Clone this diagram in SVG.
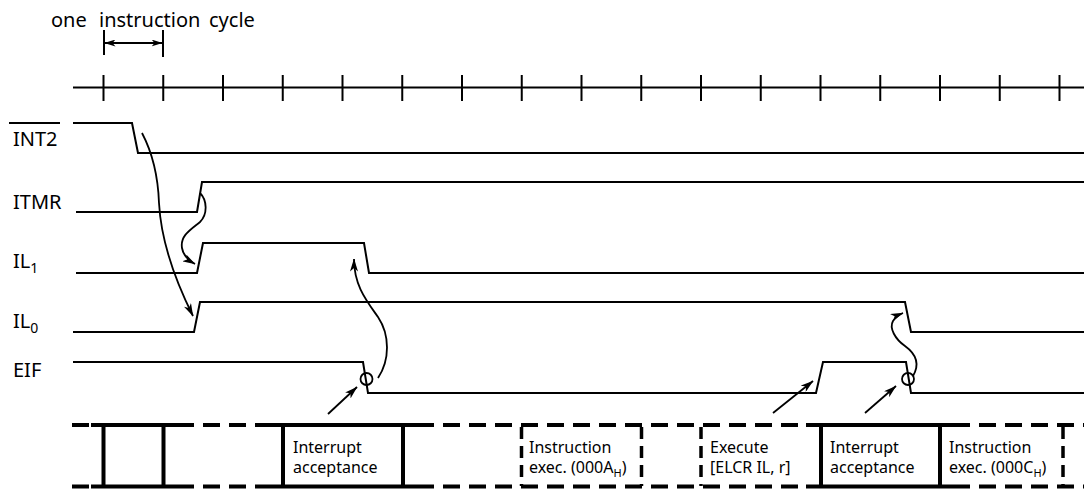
<svg xmlns="http://www.w3.org/2000/svg" width="1084" height="489" viewBox="0 0 1084 489">
<defs>
<marker id="ah" markerUnits="userSpaceOnUse" viewBox="0 0 13 8" markerWidth="13" markerHeight="8" refX="12.5" refY="4" orient="auto"><path d="M0,0 L13,4 L0,8 L3.5,4 z" fill="#000"/></marker>
<marker id="ahs" markerUnits="userSpaceOnUse" viewBox="0 0 11 7" markerWidth="11" markerHeight="7" refX="10.5" refY="3.5" orient="auto-start-reverse"><path d="M0,0 L11,3.5 L0,7 L3,3.5 z" fill="#000"/></marker>
</defs>
<style>
.ln{fill:none;stroke:#000;stroke-width:2}
.sig{fill:none;stroke:#000;stroke-width:2;stroke-linejoin:miter}
.cur{fill:none;stroke:#000;stroke-width:1.8}
.lbl{font-family:"Noto Sans","Liberation Sans",sans-serif;font-size:20px;fill:#000}
.sub{font-size:14px}
.bx{font-family:"Noto Sans","Liberation Sans",sans-serif;font-size:16px;fill:#000}
.bsub{font-size:11px}
.thick{fill:none;stroke:#000;stroke-width:4}
.dash{fill:none;stroke:#000;stroke-width:4;stroke-dasharray:17 9}
.vdash{fill:none;stroke:#000;stroke-width:3.5;stroke-dasharray:12 7}
</style>

<g id="cycle-label">
<text class="lbl" y="27"><tspan x="51">one</tspan><tspan x="99">instruction</tspan><tspan x="209">cycle</tspan></text>
<line class="ln" x1="104" y1="30" x2="104" y2="55"/>
<line class="ln" x1="163" y1="30" x2="163" y2="57"/>
<line class="ln" x1="105" y1="43" x2="162" y2="43" marker-start="url(#ahs)" marker-end="url(#ahs)"/>
</g>

<g id="timeline">
<line class="ln" x1="73" y1="87.5" x2="1084" y2="87.5"/>
<path class="ln" d="M103.5,75V101 M163.25,75V101 M223,75V101 M282.75,75V101 M342.5,75V101 M402.25,75V101 M462,75V101 M521.75,75V101 M581.5,75V101 M641.25,75V101 M701,75V101 M760.75,75V101 M820.5,75V101 M880.25,75V101 M940,75V101 M999.75,75V101 M1059.5,75V101"/>
</g>

<g id="sig-int2">
<text class="lbl" x="13" y="146">INT2</text>
<line class="ln" x1="9" y1="123" x2="60" y2="123"/>
<path class="sig" d="M73,123 H132 L138,153 H1084"/>
</g>

<g id="sig-itmr">
<text class="lbl" x="13" y="209">ITMR</text>
<path class="sig" d="M76,212 H197 L202,182 H1084"/>
</g>

<g id="sig-il1">
<text class="lbl" x="13" y="268">IL<tspan class="sub" dy="5">1</tspan></text>
<path class="sig" d="M76,273 H197 L203,243 H364 L369,273 H1084"/>
</g>

<g id="sig-il0">
<text class="lbl" x="13" y="328">IL<tspan class="sub" dy="5">0</tspan></text>
<path class="sig" d="M73,332 H194 L200,302 H905 L911,332 H1084"/>
</g>

<g id="sig-eif">
<text class="lbl" x="13" y="377">EIF</text>
<path class="sig" d="M73,362 H363 L368,393 H816 L823,362 H906 L911,393 H1084"/>
<circle cx="366.5" cy="379" r="6" fill="none" stroke="#000" stroke-width="1.8"/>
<circle cx="908" cy="379" r="6" fill="none" stroke="#000" stroke-width="1.8"/>
</g>

<g id="connectors">
<path class="cur" d="M142,133 C152,152 158,175 159,203 C161,240 176,282 193,316" marker-end="url(#ah)"/>
<path class="cur" d="M200,193 C207,200 208,214 200,222 C190,230 180,236 182,248 C183,255 188,260 195,264" marker-end="url(#ah)"/>
<path class="cur" d="M378,378 C390,360 390,335 378,317 C366,300 354,285 354,259" marker-end="url(#ah)"/>
<path class="cur" d="M913,376 C920,364 916,354 905,346 C895,339 889,328 893,321 C895,318 898,315 903,313" marker-end="url(#ah)"/>
<line class="cur" x1="328" y1="414" x2="357" y2="387" marker-end="url(#ah)"/>
<line class="cur" x1="773" y1="413" x2="813" y2="381" marker-end="url(#ah)"/>
<line class="cur" x1="865" y1="413" x2="896" y2="386" marker-end="url(#ah)"/>
</g>

<g id="sequence">
<path class="dash" d="M72,425H91 M177,425H269 M417,425H806 M953,425H1084 M72,486.5H91 M177,486.5H269 M417,486.5H806 M953,486.5H1084"/>
<path class="thick" d="M91,425H177 M269,425H417 M806,425H953 M91,486.5H177 M269,486.5H417 M806,486.5H953"/>
<path class="thick" d="M103.5,425V488 M163.5,425V488 M283,425V488 M403,425V488 M821,425V488 M940,425V488"/>
<path class="vdash" d="M521.5,427V486 M641.5,427V486 M701,427V486 M1063,427V486"/>
</g>

<g id="box-int-acc-1">
<text class="bx" x="293" y="453">Interrupt</text>
<text class="bx" x="293" y="473">acceptance</text>
</g>
<g id="box-exec-a">
<text class="bx" x="529" y="453">Instruction</text>
<text class="bx" x="529" y="473">exec. (000A<tspan class="bsub" dy="4">H</tspan><tspan dy="-4">)</tspan></text>
</g>
<g id="box-elcr">
<text class="bx" x="710" y="453">Execute</text>
<text class="bx" x="710" y="473">[ELCR IL, r]</text>
</g>
<g id="box-int-acc-2">
<text class="bx" x="830" y="453">Interrupt</text>
<text class="bx" x="830" y="473">acceptance</text>
</g>
<g id="box-exec-c">
<text class="bx" x="949" y="453">Instruction</text>
<text class="bx" x="949" y="473">exec. (000C<tspan class="bsub" dy="4">H</tspan><tspan dy="-4">)</tspan></text>
</g>
</svg>
